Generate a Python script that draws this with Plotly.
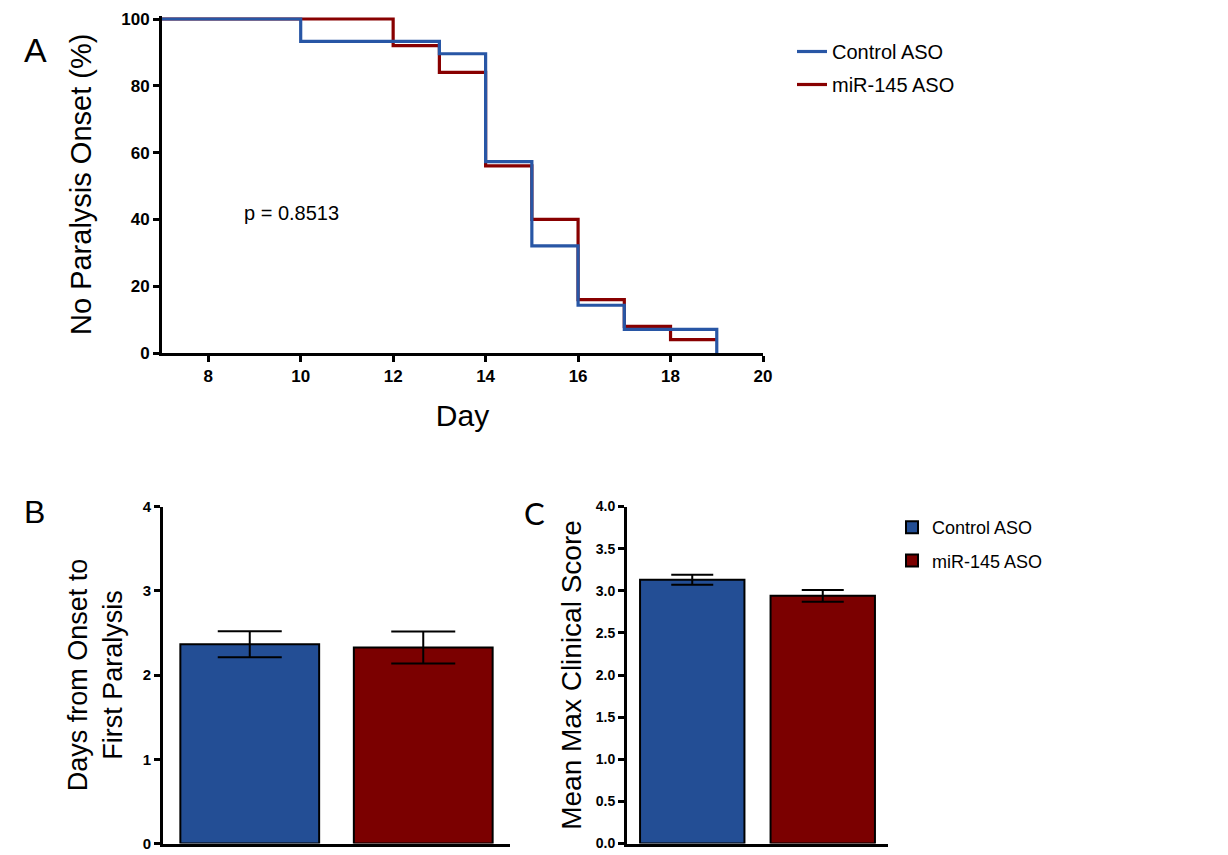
import plotly.graph_objects as go

# ---- data -------------------------------------------------------------
groups = ["Control ASO", "miR-145 ASO"]

# Panel A: Kaplan-Meier style curves (percent without paralysis onset)
ctrl_day = [7, 10, 13, 14, 15, 16, 17, 19]
ctrl_pct = [100, 93.3, 89.6, 57.3, 32.1, 14.3, 7.1, 0]
mir_day = [7, 12, 13, 14, 15, 16, 17, 18, 19]
mir_pct = [100, 92, 84, 56, 40, 16, 8, 4, 4]
p_value_text = "p = 0.8513"

# Panel B: days from onset to first paralysis (mean, SEM)
onset_mean = [2.365, 2.326]
onset_sem = [0.155, 0.19]

# Panel C: mean maximum clinical score (mean, SEM)
score_mean = [3.13, 2.94]
score_sem = [0.06, 0.07]

x_ticks_a = [8, 10, 12, 14, 16, 18, 20]
y_ticks_a = [0, 20, 40, 60, 80, 100]
y_ticks_b = [0, 1, 2, 3, 4]
y_ticks_c = [0, 0.5, 1.0, 1.5, 2.0, 2.5, 3.0, 3.5, 4.0]
y_ticktext_c = ["0.0", "0.5", "1.0", "1.5", "2.0", "2.5", "3.0", "3.5", "4.0"]

# ---- styling ----------------------------------------------------------
W, H = 1228, 855
LINE_BLUE = "#2856A5"
LINE_RED = "#880000"
BAR_BLUE = "#234E95"
BAR_RED = "#7B0000"
FONT = "Liberation Sans, Arial, sans-serif"


def px_x(px):
    return px / W


def px_y(py):
    return 1 - py / H


fig = go.Figure()

# Panel A curves (red first so blue sits on top)
fig.add_trace(go.Scatter(
    x=mir_day, y=mir_pct, mode="lines", line=dict(shape="hv", color=LINE_RED, width=3.2),
    name=groups[1], legendrank=2, legendgroup="m", xaxis="x", yaxis="y", legend="legend",
))
fig.add_trace(go.Scatter(
    x=ctrl_day, y=ctrl_pct, mode="lines", line=dict(shape="hv", color=LINE_BLUE, width=3.2),
    name=groups[0], legendrank=1, legendgroup="c", xaxis="x", yaxis="y", legend="legend",
))

# Panel B bars
for i, (g, col) in enumerate(zip(groups, [BAR_BLUE, BAR_RED])):
    fig.add_trace(go.Bar(
        x=[i], y=[onset_mean[i]], width=0.8, marker=dict(color=col, line=dict(color="black", width=2)),
        error_y=dict(type="data", array=[onset_sem[i]], color="black", thickness=2, width=32),
        xaxis="x2", yaxis="y2", showlegend=False, name=g,
    ))

# Panel C bars (carry the box legend)
for i, (g, col) in enumerate(zip(groups, [BAR_BLUE, BAR_RED])):
    fig.add_trace(go.Bar(
        x=[i], y=[score_mean[i]], width=0.8, marker=dict(color=col, line=dict(color="black", width=2)),
        error_y=dict(type="data", array=[score_sem[i]], color="black", thickness=2, width=21),
        xaxis="x3", yaxis="y3", name=g, legend="legend2", legendrank=i + 1, legendgroup=g,
    ))

axis_common = dict(
    showline=True, linecolor="black", linewidth=3, ticks="outside", ticklen=6,
    tickwidth=3, tickcolor="black", showgrid=False, zeroline=False, automargin=False,
    ticklabeloverflow="allow",
)

# y positions (pixels) of panel bounds
a_bottom, a_top = 353, 353 - 101 * 3.34
bc_bottom, bc_top = 843.5, 506.5

fig.update_layout(
    width=W, height=H, margin=dict(l=0, r=0, t=0, b=0),
    paper_bgcolor="white", plot_bgcolor="white",
    font=dict(family=FONT, color="black"),
    barmode="overlay",
    xaxis=dict(
        **axis_common, domain=[px_x(162), px_x(763)], range=[7, 20], anchor="y",
        tickvals=x_ticks_a, tickfont=dict(size=17, weight="bold", family=FONT),
        title=dict(text="Day", font=dict(size=30, family=FONT), standoff=20),
    ),
    yaxis=dict(
        **axis_common, domain=[px_y(a_bottom), px_y(a_top)], range=[0, 101], anchor="x",
        tickvals=y_ticks_a, tickfont=dict(size=17, weight="bold", family=FONT),
        title=dict(text="No Paralysis Onset (%)", font=dict(size=29, family=FONT), standoff=22),
    ),
    xaxis2=dict(
        **axis_common, domain=[px_x(163), px_x(510)], range=[-0.5, 1.5], anchor="y2",
        showticklabels=False, tickvals=[],
    ),
    yaxis2=dict(
        **axis_common, domain=[px_y(bc_bottom), px_y(bc_top)], range=[0, 4], anchor="x2",
        tickvals=y_ticks_b, tickfont=dict(size=15, weight="bold", family=FONT),
        title=dict(text="Days from Onset to<br>First Paralysis", font=dict(size=27, family=FONT), standoff=13),
    ),
    xaxis3=dict(
        **axis_common, domain=[px_x(627), px_x(888)], range=[-0.5, 1.5], anchor="y3",
        showticklabels=False, tickvals=[],
    ),
    yaxis3=dict(
        **axis_common, domain=[px_y(bc_bottom), px_y(bc_top)], range=[0, 4], anchor="x3",
        tickvals=y_ticks_c, ticktext=y_ticktext_c, tickfont=dict(size=14, weight="bold", family=FONT),
        title=dict(text="Mean Max Clinical Score", font=dict(size=28, family=FONT), standoff=6),
    ),
    legend=dict(
        x=px_x(792), y=px_y(32), xanchor="left", yanchor="top",
        font=dict(size=20, family=FONT), traceorder="grouped", tracegroupgap=4,
        bgcolor="rgba(0,0,0,0)",
    ),
    legend2=dict(
        x=px_x(892), y=px_y(509), xanchor="left", yanchor="top",
        font=dict(size=18, family=FONT), traceorder="grouped", tracegroupgap=7,
        bgcolor="rgba(0,0,0,0)",
    ),
    annotations=[
        dict(text=p_value_text, x=9.8, y=42, xref="x", yref="y", showarrow=False,
             font=dict(size=20, family=FONT)),
        dict(text="A", x=px_x(22), y=px_y(29), xref="paper", yref="paper", showarrow=False,
             font=dict(size=34, family=FONT)),
        dict(text="B", x=px_x(22), y=px_y(512), xref="paper", yref="paper", showarrow=False,
             font=dict(size=32, family=FONT)),
        dict(text="C", x=px_x(534), y=px_y(513), xref="paper", yref="paper", showarrow=False,
             font=dict(size=31, family="Lato, Open Sans, sans-serif")),
    ],
)

fig.write_html("out.html")
